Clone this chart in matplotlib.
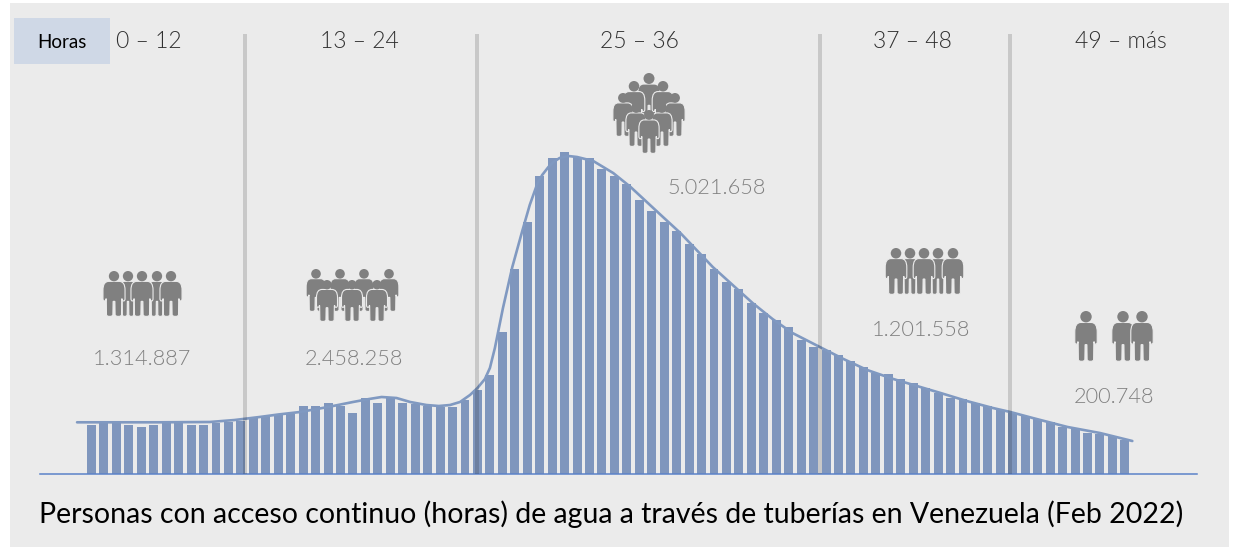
import matplotlib
matplotlib.use("Agg")
import matplotlib.pyplot as plt
from matplotlib.patches import Rectangle, Circle, PathPatch
from matplotlib.path import Path
import numpy as np

W, H = 1234, 548
plt.rcParams['font.family'] = ['Lato', 'DejaVu Sans']

# Bar heights above the baseline (one bar per hour bin)
bar_heights = [49, 51, 51, 49, 47, 49, 51, 51, 49, 49, 51, 52, 53, 56, 57, 59, 60, 68, 68, 71, 68, 61,
               76, 71, 76, 71, 70, 68, 67, 67, 74, 84, 99, 142, 205, 252, 298, 316, 322, 317, 316, 305,
               298, 290, 274, 263, 252, 243, 230, 220, 205, 192, 185, 171, 161, 154, 147, 134, 127, 124,
               119, 113, 107, 101, 100, 95, 91, 86, 81, 76, 75, 71, 68, 64, 61, 58, 55, 52, 47, 46, 41,
               40, 38, 34]

# Smoothed trend curve (bin position, height)
curve_pos = [-1.16, 2.5, 5.5, 9.5, 11.5, 13.5, 15, 16.75, 19, 21, 22.3, 23.3, 24.5, 25.6, 26.9, 27.9, 28.8, 29.6, 30.4,
             31, 31.6, 32, 32.4, 33.05, 33.8, 34.6, 35.2, 35.8, 36.2, 36.7, 37.1, 37.6, 38.3, 39, 40.3, 41.9, 43.3, 44.6,
             45.9, 47.3, 48.6, 49.9, 51.5, 53.1, 54.7, 56.3, 58.5, 60.4, 62.3, 64.4, 66.3, 68.2, 70.3, 72.4, 73.8,
             75.6, 78.4, 81, 83.6]
curve_val = [51.7, 51.7, 51.7, 52, 54, 57, 59.5, 62, 67, 72, 75, 77, 76, 72, 69, 68, 69, 72, 79,
             86, 95, 106, 126, 166, 207, 243, 269, 290, 299, 307, 312, 316, 318, 317, 313, 301, 287, 272,
             257, 241, 224, 207, 189, 171, 155, 141, 127, 115, 104, 95, 88, 81, 73, 66, 62,
             56, 47, 41, 33]

header_labels = ["0 – 12", "13 – 24", "25 – 36", "37 – 48", "49 – más"]
count_labels = ["1.314.887", "2.458.258", "5.021.658", "1.201.558", "200.748"]
title_text = "Personas con acceso continuo (horas) de agua a través de tuberías en Venezuela (Feb 2022)"

fig = plt.figure(figsize=(W / 100, H / 100), dpi=100, facecolor='white')

# Pixel-coordinate layer for the panel
bg = fig.add_axes([0, 0, 1, 1], zorder=0)
bg.set_xlim(0, W)
bg.set_ylim(H, 0)
bg.axis('off')
bg.add_patch(Rectangle((10, 3), 1219, 544, fc='#EBEBEB', ec='none'))
bg.add_patch(Rectangle((14, 18), 96, 46, fc='#CFD8E6', ec='none'))

# Chart layer: one unit of value is one pixel, baseline at y = 474
base_y, x0, pitch = 474, 91.5, 12.45
ax = fig.add_axes([0, 0, 1, 1], zorder=1)
ax.patch.set_alpha(0)
ax.axis('off')
ax.set_xlim(-x0 / pitch, (W - x0) / pitch)
ax.set_ylim(-(H - base_y), base_y)
ax.bar(np.arange(len(bar_heights)), bar_heights, width=0.72, bottom=0, color='#7F96BD', zorder=2)
ax.plot(curve_pos, curve_val, color='#8099C1', lw=1.9, zorder=3, solid_capstyle='round', solid_joinstyle='round')
ax.plot([(40 - x0) / pitch, (1197 - x0) / pitch], [0, 0], color='#5B82C8', lw=1.1, zorder=4)

# Overlay layer
top = fig.add_axes([0, 0, 1, 1], zorder=2)
top.patch.set_alpha(0)
top.axis('off')
top.set_xlim(0, W)
top.set_ylim(H, 0)

for sx in [245, 477, 820, 1010]:
    top.add_patch(Rectangle((sx - 2, 34), 4, 440, fc='black', alpha=0.15, ec='none', zorder=1))

INK, EDGE = '#808080', '#EBEBEB'

# Left half of the body silhouette in unit coordinates: neck, shoulder, arm, leg, crotch
L, C4 = Path.LINETO, Path.CURVE4
half_verts = [(0.0, .225), (-.45, .225),
              (-.8, .225), (-1.0, .28), (-1.0, .42),
              (-1.0, .60),
              (-1.0, .67), (-.74, .67), (-.72, .60),
              (-.70, .62), (-.68, .95),
              (-.68, 1.0), (-.12, 1.0), (-.10, .95),
              (-.08, .66), (0.0, .66)]
half_codes = [Path.MOVETO, L, C4, C4, C4, L, C4, C4, C4, L, L, C4, C4, C4, L, L]


def person(cx, y0, y1, width):
    h = y1 - y0
    w = h * width
    verts = list(half_verts) + [(-u, v) for u, v in half_verts[::-1]][1:] + [(0, 0)]
    codes = half_codes + half_codes[::-1][:-1] + [Path.CLOSEPOLY]
    pts = [(cx + u * w / 2, y0 + v * h) for u, v in verts]
    top.add_patch(PathPatch(Path(pts, codes), fc=INK, ec=EDGE, lw=0.8, zorder=5))
    top.add_patch(Circle((cx, y0 + 0.112 * h), 0.112 * h, fc=INK, ec='none', zorder=5))


# pictograms: (centre x, top y, bottom y, relative width)
groups = [
    (128, 271, 317, .36), (157, 271, 317, .36), (114, 271, 317, .48), (142, 271, 317, .48), (171, 271, 317, .48),
    (316, 269, 312, .46), (340, 269, 312, .46), (364, 269, 312, .46), (389, 269, 312, .46),
    (327, 280, 322, .50), (352, 280, 322, .50), (377, 280, 322, .50),
    (649, 73, 122, .46), (634, 81, 128, .46), (663, 81, 128, .46), (623, 93, 137, .46), (675, 93, 137, .46),
    (636, 103, 147, .46), (662, 103, 147, .46), (649, 110, 154, .46),
    (910, 248, 295, .36), (938, 248, 295, .36), (896, 248, 295, .46), (924, 248, 295, .46), (953, 248, 295, .46),
    (1086, 311, 362, .44), (1123, 311, 362, .44), (1142, 311, 362, .44),
]
for g in groups:
    person(g[0], g[1], g[2], g[3])

for label, x in zip(header_labels, [149, 359, 639, 912, 1121]):
    top.text(x, 42, label, ha='center', va='center', fontsize=16.5, color='#303030', fontweight=300, zorder=6)
for label, (x, y) in zip(count_labels, [(142, 359), (354, 359), (717, 188), (921, 330), (1114, 397)]):
    top.text(x, y, label, ha='center', va='center', fontsize=15.7, color='#808080', fontweight=300, zorder=6)
top.text(62, 42, "Horas", ha='center', va='center', fontsize=13.5, color='black', zorder=6)
top.text(611, 514, title_text, ha='center', va='center', fontsize=20.55, color='black', zorder=6)

fig.savefig('out.png', dpi=100, facecolor='white')
